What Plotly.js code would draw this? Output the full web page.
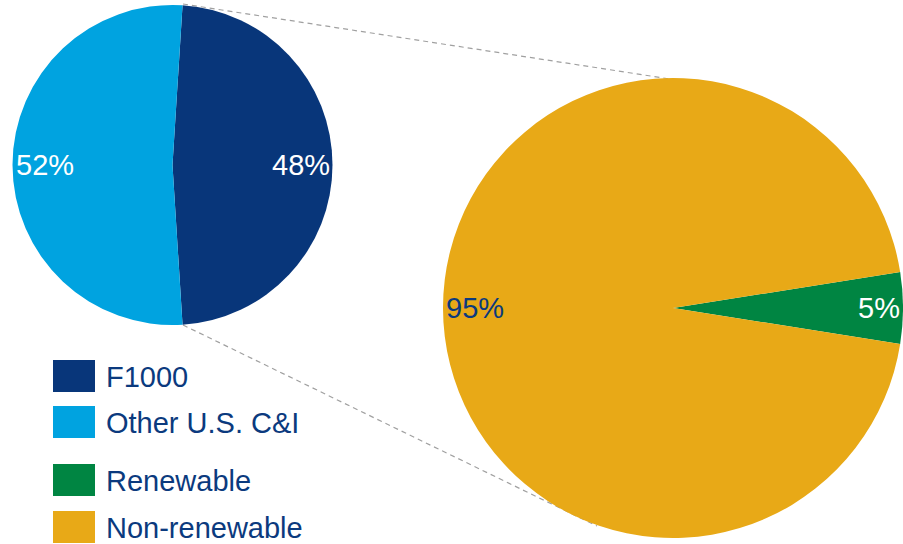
<!DOCTYPE html>
<html>
<head>
<meta charset="utf-8">
<script src="https://cdn.plot.ly/plotly-3.0.1.min.js"></script>
<style>html,body{margin:0;padding:0;background:#fff;}#chart{width:903px;height:544px;}</style>
</head>
<body>
<div id="chart"></div>
<script>
// ---- data ----
const marketLabels = ['F1000', 'Other U.S. C&I'];
const marketValues = [48, 52];
const energyLabels = ['Renewable', 'Non-renewable'];
const energyValues = [5, 95];

// ---- styling / layout ----
const W = 903, H = 544;
const navy = '#08367A', sky = '#00A3E0', green = '#008542', gold = '#E8A917';
const textNavy = '#0B3A7E';
const marketColors = [navy, sky];
const energyColors = [green, gold];
const marketTextColors = ['#ffffff', '#ffffff'];
const energyTextColors = ['#ffffff', textNavy];
const FONT = 'Arial, "Liberation Sans", sans-serif';

const small = {cx: 172.5, cy: 165, r: 160, rot: 3.6};
const big = {cx: 673, cy: 308, r: 230, rot: 81};

function px(x) { return x / W; }
function py(y) { return 1 - y / H; }

function dom(p) {
  return {x: [px(p.cx - p.r), Math.min(1, px(p.cx + p.r))], y: [py(p.cy + p.r), py(p.cy - p.r)]};
}

const traces = [
  {type: 'pie', labels: marketLabels, values: marketValues, sort: false, direction: 'clockwise',
   rotation: small.rot, domain: dom(small), marker: {colors: marketColors, line: {width: 0}},
   textinfo: 'none', hoverinfo: 'label+percent', showlegend: false},
  {type: 'pie', labels: energyLabels, values: energyValues, sort: false, direction: 'clockwise',
   rotation: big.rot, domain: dom(big), marker: {colors: energyColors, line: {width: 0}},
   textinfo: 'none', hoverinfo: 'label+percent', showlegend: false}
];

const annotations = [];
function pctLabels(p, vals, colors, inset) {
  const tot = vals.reduce((a, b) => a + b, 0);
  let start = p.rot;
  vals.forEach((v, i) => {
    const span = v / tot * 360;
    const mid = (start + span / 2) * Math.PI / 180;
    start += span;
    const s = Math.sin(mid), c = Math.cos(mid);
    const rr = p.r - inset;
    const x = p.cx + rr * s, y = p.cy - rr * c;
    annotations.push({
      xref: 'paper', yref: 'paper', x: px(x), y: py(y),
      xanchor: s > 0.5 ? 'right' : (s < -0.5 ? 'left' : 'center'),
      yanchor: 'middle', showarrow: false,
      text: Math.round(v / tot * 100) + '%',
      font: {family: FONT, size: 29, color: colors[i]}
    });
  });
}
pctLabels(small, marketValues, marketTextColors, 1);
pctLabels(big, energyValues, energyTextColors, 1);

// custom legend
const legendLabels = marketLabels.concat(energyLabels);
const legendColors = marketColors.concat(energyColors);
const legendRowY = [376, 422, 480, 527];
const shapes = [];
legendLabels.forEach((lab, i) => {
  const yc = legendRowY[i];
  shapes.push({type: 'rect', xref: 'paper', yref: 'paper', x0: px(53), x1: px(95), y0: py(yc + 16), y1: py(yc - 16),
    fillcolor: legendColors[i], line: {width: 0}});
  annotations.push({xref: 'paper', yref: 'paper', x: px(104), y: py(yc + 1), xanchor: 'left', yanchor: 'middle',
    showarrow: false, text: lab, font: {family: FONT, size: 29, color: textNavy}});
});

// connector lines (behind pies)
shapes.push({type: 'line', xref: 'paper', yref: 'paper', layer: 'below', x0: px(183), y0: py(4), x1: px(670), y1: py(79),
  line: {color: '#A0A0A0', width: 1.2, dash: '5px,4px'}});
shapes.push({type: 'line', xref: 'paper', yref: 'paper', layer: 'below', x0: px(183), y0: py(325), x1: px(597), y1: py(526),
  line: {color: '#A0A0A0', width: 1.2, dash: '5px,4px'}});

const layout = {
  width: W, height: H, margin: {l: 0, r: 0, t: 0, b: 0},
  paper_bgcolor: '#ffffff', plot_bgcolor: '#ffffff',
  showlegend: false, annotations: annotations, shapes: shapes,
  font: {family: FONT}
};
Plotly.newPlot('chart', traces, layout, {displayModeBar: false, staticPlot: true});
</script>
</body>
</html>
